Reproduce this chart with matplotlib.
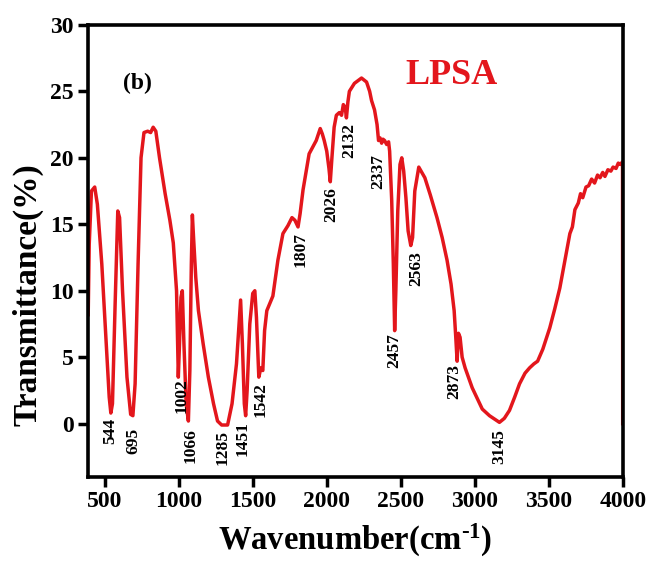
import matplotlib
matplotlib.use("Agg")
import matplotlib.pyplot as plt

plt.rcParams["mathtext.fontset"] = "custom"
plt.rcParams["mathtext.rm"] = "Liberation Serif:bold"
plt.rcParams["mathtext.bf"] = "Liberation Serif:bold"
plt.rcParams["mathtext.it"] = "Liberation Serif:bold"

# Spectrum trace (wavenumber, transmittance)
wavenumber = [388, 395, 410, 432, 450, 480, 510, 530, 541, 552, 570, 588, 600, 620, 650, 675, 690,
              705, 725, 745, 765, 790, 810, 827, 845, 870, 908, 940, 963, 985, 997, 1005, 1015, 1024,
              1035, 1050, 1065, 1075, 1085, 1092, 1100, 1115, 1133, 1165, 1200, 1235, 1262, 1290,
              1330, 1360, 1390, 1418, 1430, 1443, 1452, 1462, 1480, 1500, 1514, 1525, 1541, 1555,
              1568, 1580, 1595, 1636, 1670, 1704, 1738, 1765, 1785, 1806, 1820, 1840, 1881, 1929,
              1956, 1970, 1983, 2000, 2015, 2024, 2035, 2050, 2058, 2065, 2085, 2100, 2112, 2125,
              2133, 2143, 2153, 2187, 2235, 2269, 2290, 2303, 2323, 2340, 2350, 2360, 2371, 2380,
              2391, 2405, 2418, 2425, 2439, 2450, 2459, 2467, 2480, 2495, 2507, 2520, 2535, 2550,
              2568, 2580, 2595, 2622, 2663, 2700, 2745, 2780, 2813, 2840, 2861, 2872, 2881, 2890,
              2901, 2915, 2935, 2983, 3051, 3100, 3140, 3167, 3200, 3235, 3270, 3303, 3340, 3371,
              3400, 3425, 3460, 3507, 3540, 3575, 3610, 3643, 3660, 3677, 3700, 3715, 3730, 3752,
              3770, 3790, 3810, 3830, 3847, 3865, 3880, 3900, 3920, 3935, 3955, 3970, 3985, 3999,
              4000]
transmittance = [8.2, 13.5, 17.5, 17.8, 16.5, 12.0, 6.0, 2.0, 0.8, 1.5, 9.0, 16.0, 15.5, 10.0, 3.5, 0.7, 0.6,
                 3.0, 12.0, 20.0, 21.9, 22.0, 21.9, 22.3, 22.0, 20.0, 17.3, 15.3, 13.6, 10.0, 3.5, 6.0, 9.5, 10.0,
                 6.0, 1.5, 0.2, 4.0, 12.0, 15.7, 14.0, 11.0, 8.5, 6.0, 3.5, 1.5, 0.2, -0.1,
                 -0.1, 1.5, 4.5, 9.3, 6.0, 1.5, 0.6, 2.5, 7.5, 9.8, 10.0, 8.0, 3.5, 4.2,
                 4.0, 7.0, 8.5, 9.6, 12.3, 14.3, 14.9, 15.5, 15.3, 14.8, 15.8, 17.6, 20.3, 21.3,
                 22.2, 21.8, 21.3, 20.5, 19.2, 18.2, 20.0, 22.3, 22.8, 23.2, 23.4, 23.2, 24.0, 23.8,
                 23.0, 24.2, 25.0, 25.6, 26.0, 25.7, 25.0, 24.3, 23.6, 22.5, 21.3, 21.5, 21.1, 21.4,
                 21.3, 21.0, 21.2, 20.5, 16.8, 12.0, 7.0, 10.0, 16.0, 19.5, 20.0, 19.0, 17.0, 14.5,
                 13.4, 14.0, 17.5, 19.3, 18.5, 17.2, 15.5, 14.0, 12.3, 10.5, 8.5, 6.5, 4.7, 6.8,
                 6.5, 5.0, 4.2, 2.7, 1.1, 0.6, 0.3, 0.1, 0.4, 1.0, 2.0, 3.0, 3.8, 4.2,
                 4.5, 4.7, 5.6, 7.2, 8.6, 10.2, 12.3, 14.3, 14.8, 16.1, 16.6, 17.3, 17.0, 17.8,
                 17.9, 18.4, 18.1, 18.7, 18.5, 18.9, 18.6, 19.1, 19.0, 19.3, 19.2, 19.6, 19.5, 19.7,
                 0.0]

peak_labels = ["544", "695", "1002", "1066", "1285", "1451", "1542", "1807", "2026",
               "2132", "2337", "2457", "2563", "2873", "3145"]
peak_x = [534, 690, 1020, 1078, 1296, 1432, 1554, 1826, 2031, 2152, 2350, 2459, 2605, 2861, 3165]
peak_label_top = [0.4, -0.3, 3.4, -0.3, -0.5, 0.2, 3.1, 14.4, 17.8, 22.6, 20.3, 6.8, 13.0, 4.5, -0.4]

x_ticks = [500, 1000, 1500, 2000, 2500, 3000, 3500, 4000]
y_ticks = [0, 5, 10, 15, 20, 25, 30]

serif = ["Liberation Serif", "DejaVu Serif"]
red = "#e3161c"

fig = plt.figure(figsize=(6.5, 5.65), dpi=100)
ax = fig.add_axes([0.135, 0.156, 0.823, 0.80])

ax.plot(wavenumber, transmittance, color=red, lw=2.5, solid_joinstyle="round")

for lab, x, y in zip(peak_labels, peak_x, peak_label_top):
    ax.text(x, y, lab, rotation=90, ha="center", va="top", fontsize=12.5,
            fontweight="bold", family=serif, color="black")

ax.text(0.065, 0.87, "(b)", transform=ax.transAxes, fontsize=17, fontweight="bold",
        family=serif, ha="left", va="center")
ax.text(0.593, 0.888, "LPSA", transform=ax.transAxes, fontsize=26, fontweight="bold",
        family=serif, color=red, ha="left", va="center")

ax.set_xlim(385, 4000)
ax.set_ylim(-4, 30)
ax.set_xticks(x_ticks)
ax.set_yticks(y_ticks)

for s in ax.spines.values():
    s.set_linewidth(2.6)
    s.set_color("black")

ax.tick_params(direction="out", length=7, width=2.5, labelsize=17, pad=3)
for lbl in ax.get_xticklabels() + ax.get_yticklabels():
    lbl.set_fontfamily(serif)
    lbl.set_fontweight("bold")

ax.set_xlabel(r"Wavenumber(cm$^{\text{-}\mathbf{1}}$)", fontsize=23.5, fontweight="bold",
              family=serif, labelpad=7)
ax.set_ylabel("Transmittance(%)", fontsize=24, fontweight="bold", family=serif)
ax.yaxis.set_label_coords(-0.082, 0.403)

fig.savefig("out.png", dpi=100)
